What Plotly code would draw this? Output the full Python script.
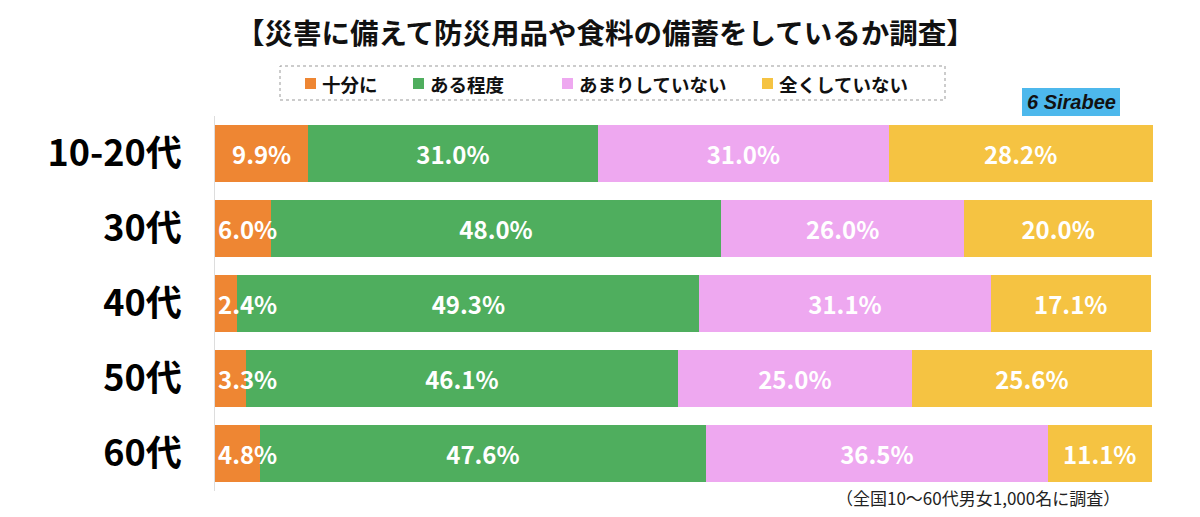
import plotly.graph_objects as go

## Survey data (percent)
ages = ["10-20代", "30代", "40代", "50代", "60代"]
series_names = ["十分に", "ある程度", "あまりしていない", "全くしていない"]
juubun = [9.9, 6.0, 2.4, 3.3, 4.8]
aruteido = [31.0, 48.0, 49.3, 46.1, 47.6]
amari = [31.0, 26.0, 31.1, 25.0, 36.5]
mattaku = [28.2, 20.0, 17.1, 25.6, 11.1]
colors = ["#EE8633", "#4FAE5E", "#EEA8F0", "#F5C342"]

FONT = "Noto Sans CJK JP"
OFF = 8  # the page body adds an 8px margin around the figure
W, H = 1200 - OFF, 517 - OFF
L, R, T, B = 215 - OFF, 47, 116 - OFF, 26
PW, PH = W - L - R, H - T - B


def px(x):  # screen pixel -> paper x
    return (x - OFF - L) / PW


def py(y):  # screen pixel -> paper y
    return (H - B - (y - OFF)) / PH


fig = go.Figure()
all_series = [juubun, aruteido, amari, mattaku]
for i, (name, vals, col) in enumerate(zip(series_names, all_series, colors)):
    fig.add_trace(go.Bar(
        y=ages, x=vals, name=name, orientation="h",
        marker=dict(color=col, line=dict(width=0)),
        text=None if i == 0 else ["<b>%.1f%%</b>" % v for v in vals],
        textposition="inside", insidetextanchor="middle", textangle=0,
        textfont=dict(color="white", size=24, family=FONT),
        constraintext="none", cliponaxis=False, showlegend=False,
    ))

## first-series labels may overflow their thin segments, so put them as annotations
for a, v in zip(ages, juubun):
    fig.add_annotation(x=max(v / 2, 3.5), y=a, text="<b>%.1f%%</b>" % v, showarrow=False,
                       xanchor="center", yanchor="middle",
                       font=dict(color="white", size=24, family=FONT))

fig.update_layout(
    barmode="stack", bargap=0.23,
    width=W, height=H,
    paper_bgcolor="white", plot_bgcolor="white",
    margin=dict(l=L, r=R, t=T, b=B, autoexpand=False),
    font=dict(family=FONT, color="black"),
    showlegend=False,
)
fig.update_xaxes(range=[0, 100.13], visible=False, fixedrange=True, automargin=False)
fig.update_yaxes(autorange="reversed", showline=True, linecolor="#DDDDDD", linewidth=1,
                 ticks="", ticklabelstandoff=25, automargin=False,
                 tickfont=dict(size=36, family=FONT, color="black"),
                 tickvals=ages, ticktext=["<b>%s</b>" % a for a in ages])

## title as an annotation so it sits exactly where the reference has it
fig.add_annotation(text="<b>【災害に備えて防災用品や食料の備蓄をしているか調査】</b>",
                   xref="paper", yref="paper", x=px(605), xanchor="center",
                   y=py(31), yanchor="middle", showarrow=False,
                   font=dict(size=28.5, family=FONT, color="#111"))

## legend drawn by hand inside a dotted frame
fig.add_shape(type="rect", xref="paper", yref="paper",
              x0=px(280), x1=px(945), y0=py(100), y1=py(66),
              line=dict(color="#999", width=1, dash="dot"))
leg_x = [305, 413, 562, 762]
for name, col, lx in zip(series_names, colors, leg_x):
    fig.add_shape(type="rect", xref="paper", yref="paper",
                  x0=px(lx), x1=px(lx + 11), y0=py(89), y1=py(78),
                  fillcolor=col, line=dict(width=0))
    fig.add_annotation(text="<b>%s</b>" % name, xref="paper", yref="paper",
                       x=px(lx + 15), xanchor="left", y=py(83.5), yanchor="middle",
                       showarrow=False, font=dict(size=18.5, family=FONT, color="#111"))

## Sirabee logo
fig.add_shape(type="rect", xref="paper", yref="paper",
              x0=px(1022), x1=px(1120), y0=py(116), y1=py(88),
              fillcolor="#4DB8EC", line=dict(width=0))
fig.add_annotation(text="<b><i>6 Sirabee</i></b>", xref="paper", yref="paper",
                   x=px(1071), xanchor="center", y=py(102), yanchor="middle",
                   showarrow=False, font=dict(size=20, family="Liberation Sans", color="#111"))

## footnote
fig.add_annotation(text="（全国10～60代男女1,000名に調査）", xref="paper", yref="paper",
                   x=px(1122), xanchor="right", y=py(497), yanchor="middle",
                   showarrow=False, font=dict(size=17, family=FONT, color="#222"))

fig.write_html("out.html")
